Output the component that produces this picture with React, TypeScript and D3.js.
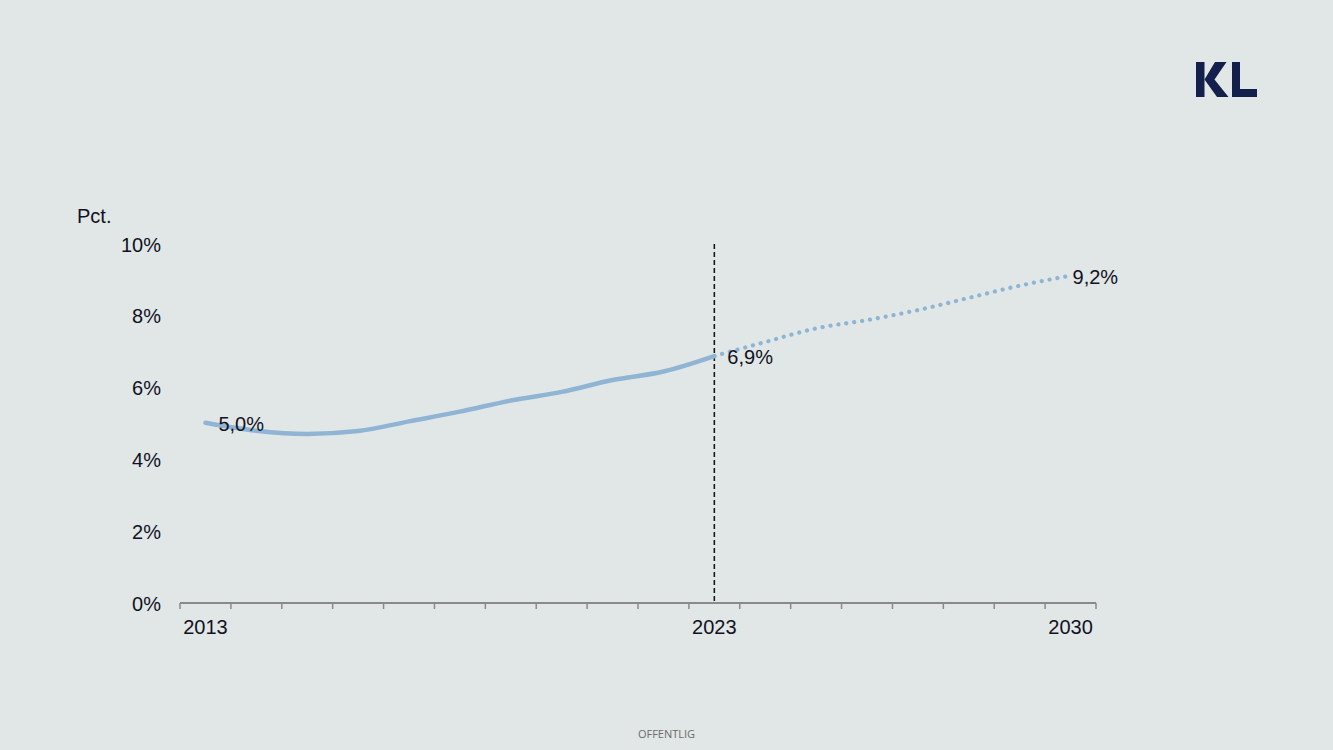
import React from "react";
import * as d3 from "d3";

const years: number[] = [2013, 2014, 2015, 2016, 2017, 2018, 2019, 2020, 2021, 2022, 2023, 2024, 2025, 2026, 2027, 2028, 2029, 2030];
const actualYears: number[] = [2013, 2014, 2015, 2016, 2017, 2018, 2019, 2020, 2021, 2022, 2023];
const actualValues: number[] = [5.02, 4.8, 4.71, 4.79, 5.06, 5.33, 5.64, 5.88, 6.21, 6.45, 6.88];
const forecastYears: number[] = [2023, 2024, 2025, 2026, 2027, 2028, 2029, 2030];
const forecastValues: number[] = [6.88, 7.27, 7.65, 7.88, 8.16, 8.5, 8.84, 9.12];
const yTicks: number[] = [0, 2, 4, 6, 8, 10];
const xLabelYears: number[] = [2013, 2023, 2030];
const dataLabels: { year: number; value: number; text: string }[] = [
  { year: 2013, value: 5.02, text: "5,0%" },
  { year: 2023, value: 6.88, text: "6,9%" },
  { year: 2030, value: 9.12, text: "9,2%" },
];

const W = 1333;
const H = 750;
const BG = "#e1e7e6";
const LINE = "#8fb4d4";
const TEXT = "#111122";
const FONT = "'Liberation Sans', Arial, sans-serif";

export default function App() {
  const x = d3.scaleBand<number>().domain(years).range([180, 1096]).paddingInner(0).paddingOuter(0);
  const cx = (yr: number) => (x(yr) as number) + x.bandwidth() / 2;
  const y = d3.scaleLinear().domain([0, 10]).range([603, 244]);

  const line = d3
    .line<[number, number]>()
    .x((d) => cx(d[0]))
    .y((d) => y(d[1]))
    .curve(d3.curveMonotoneX);

  const actualPath = line(actualYears.map((yr, i) => [yr, actualValues[i]] as [number, number])) || "";
  const forecastPath = line(forecastYears.map((yr, i) => [yr, forecastValues[i]] as [number, number])) || "";

  const tickXs: number[] = years.map((yr) => x(yr) as number).concat([x.range()[1]]);
  const labelOffsets: Record<number, [number, number]> = {
    2013: [13, 8],
    2023: [13, 8],
    2030: [2, 8],
  };

  return (
    <svg
      width={W}
      height={H}
      style={{ position: "absolute", left: 0, top: 0, background: BG }}
      fontFamily={FONT}
    >
      <rect x={0} y={0} width={W} height={H} fill={BG} />

      {/* KL logo */}
      <g fill="#14204c">
        <rect x={1196} y={62} width={8.5} height={35} />
        <polygon points="1215,62 1226.5,62 1214.5,79.5 1228.5,97 1217,97 1204.5,79.5" />
        <rect x={1232} y={62} width={8} height={35} />
        <rect x={1232} y={89} width={25} height={8} />
      </g>

      {/* Y axis title */}
      <text x={77} y={223} fontSize={20} fill={TEXT}>
        Pct.
      </text>

      {/* Y tick labels */}
      {yTicks.map((t) => (
        <text key={t} x={161} y={y(t) + 7.5} fontSize={20} fill={TEXT} textAnchor="end">
          {t}%
        </text>
      ))}

      {/* X axis */}
      <line x1={180} x2={1096} y1={603} y2={603} stroke="#8a8a8a" strokeWidth={2} />
      {tickXs.map((tx, i) => (
        <line key={i} x1={tx} x2={tx} y1={603} y2={609} stroke="#8a8a8a" strokeWidth={1.5} />
      ))}
      {xLabelYears.map((yr) => (
        <text key={yr} x={cx(yr)} y={634} fontSize={20} fill={TEXT} textAnchor="middle">
          {yr}
        </text>
      ))}

      {/* vertical dashed line at 2023 */}
      <line
        x1={cx(2023)}
        x2={cx(2023)}
        y1={244}
        y2={603}
        stroke="#111"
        strokeWidth={1.5}
        strokeDasharray="5,3"
      />

      {/* lines */}
      <path d={actualPath} fill="none" stroke={LINE} strokeWidth={4.5} strokeLinejoin="round" strokeLinecap="round" />
      <path
        d={forecastPath}
        fill="none"
        stroke={LINE}
        strokeWidth={4.2}
        strokeLinecap="round"
        strokeDasharray="0.1,7.9"
      />

      {/* data labels */}
      {dataLabels.map((d) => (
        <text
          key={d.year}
          x={cx(d.year) + labelOffsets[d.year][0]}
          y={y(d.value) + labelOffsets[d.year][1]}
          fontSize={20}
          fill={TEXT}
        >
          {d.text}
        </text>
      ))}

      {/* footer */}
      <text x={W / 2} y={738} fontSize={11} fill="#6a6a6a" textAnchor="middle" fontFamily="'Open Sans', sans-serif">
        OFFENTLIG
      </text>
    </svg>
  );
}
